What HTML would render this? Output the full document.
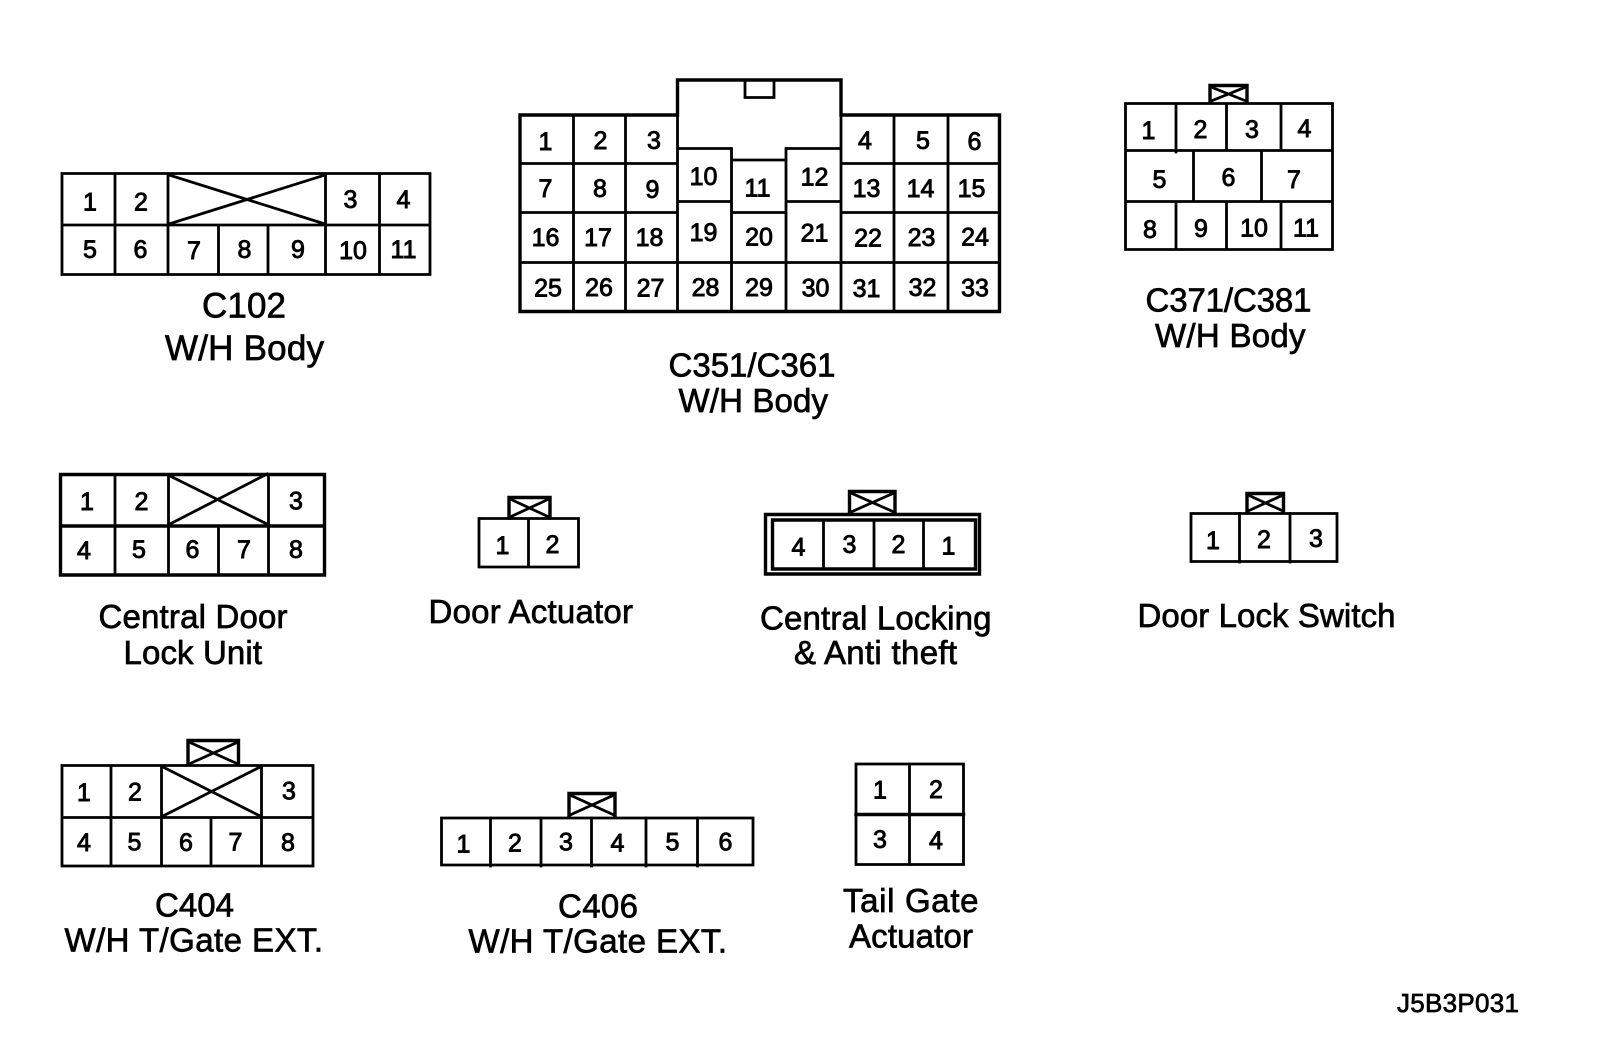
<!DOCTYPE html>
<html>
<head>
<meta charset="utf-8">
<style>
html,body{margin:0;padding:0;background:#fff;}
svg{display:block;}
text{font-family:"Liberation Sans",Arial,sans-serif;fill:#000;stroke:#000;}
.n text{font-size:25px;text-anchor:middle;stroke-width:.9;}
.l text{font-size:33px;stroke-width:.7;}
.b{fill:none;stroke:#000;stroke-width:2.8;stroke-linecap:square;}
.h{fill:none;stroke:#000;stroke-width:3.4;stroke-linecap:square;}
</style>
</head>
<body>
<svg width="1600" height="1062" viewBox="0 0 1600 1062" xmlns="http://www.w3.org/2000/svg">
<rect width="1600" height="1062" fill="#fff"/>

<!-- C102 -->
<path class="b" d="M62 173.5H430V274.5H62ZM62 225H430M115 173.5V274.5M168 173.5V274.5M218.5 225V274.5M268 225V274.5M325.5 173.5V274.5M379.5 173.5V274.5M169 175L325 224M169 224L325 175"/>
<g class="n">
<text x="90" y="210.5">1</text><text x="141" y="210.5">2</text><text x="350.5" y="208">3</text><text x="403.5" y="208">4</text>
<text x="90" y="258">5</text><text x="140.5" y="258">6</text><text x="194" y="259">7</text><text x="244.5" y="258">8</text><text x="298" y="258">9</text><text x="353" y="259">10</text><text x="403.5" y="258">11</text>
</g>

<!-- C351/C361 -->
<path class="h" d="M520 115H677.5V80H841V115H999.5V311.5H520ZM520 311.5V115"/>
<path class="b" d="M520 163.5H677.5M841 163.5H999.5M520 212.5H677.5M841 212.5H999.5M520 262.5H999.5M573.5 115V311.5M625.5 115V311.5M677.5 115V311.5M731.5 148.5V311.5M786 148.5V311.5M841 115V311.5M894 115V311.5M948 115V311.5M677.5 148.5H731.5V160H786V148.5H841M677.5 201.5H731.5M786 201.5H841M731.5 212.5H786M745 81V97.5H774V81"/>
<g class="n">
<text x="545.5" y="150">1</text><text x="600.5" y="149">2</text><text x="654" y="149">3</text><text x="865" y="149">4</text><text x="923" y="149">5</text><text x="974.5" y="150">6</text>
<text x="545.5" y="197">7</text><text x="600" y="197">8</text><text x="652.5" y="198">9</text><text x="703.5" y="185">10</text><text x="757.5" y="196.5">11</text><text x="814.5" y="185.5">12</text><text x="866.5" y="197">13</text><text x="920.5" y="197">14</text><text x="971.5" y="197">15</text>
<text x="545.5" y="246">16</text><text x="598" y="246">17</text><text x="649.5" y="246">18</text><text x="703.5" y="241">19</text><text x="759" y="245.5">20</text><text x="814.5" y="241.5">21</text><text x="868" y="246.5">22</text><text x="921.5" y="246">23</text><text x="975" y="245.5">24</text>
<text x="548" y="296.5">25</text><text x="599" y="296">26</text><text x="650.5" y="296.5">27</text><text x="705.5" y="296">28</text><text x="759" y="296">29</text><text x="815.5" y="296.5">30</text><text x="866.5" y="297">31</text><text x="922.5" y="296">32</text><text x="975" y="296.5">33</text>
</g>

<!-- C371/C381 -->
<path class="b" d="M1125.5 103.5H1332.5V249.5H1125.5ZM1125.5 150.5H1332.5M1125.5 201.5H1332.5M1176 103.5V152M1226.5 103.5V150.5M1281 103.5V150.5M1193.5 150.5V201.5M1261.5 150.5V201.5M1176 201.5V249.5M1226.5 201.5V249.5M1281 201.5V249.5"/>
<path class="h" d="M1210 102V85.5H1247V102"/>
<path class="b" d="M1211 87L1246 101M1211 101L1246 87"/>
<g class="n">
<text x="1148.5" y="139">1</text><text x="1200.5" y="138">2</text><text x="1252" y="138">3</text><text x="1304.5" y="137">4</text>
<text x="1159.5" y="188">5</text><text x="1228.5" y="186">6</text><text x="1294" y="188">7</text>
<text x="1150" y="238">8</text><text x="1201" y="237">9</text><text x="1254" y="236.5">10</text><text x="1306" y="236.5">11</text>
</g>

<!-- Central Door Lock Unit -->
<path class="h" d="M60.5 474.5H324.5V575H60.5ZM60.5 526H324.5"/>
<path class="b" d="M115 474.5V575M168.5 474.5V575M218.5 526V575M268.5 474.5V575M170 476L267 524M170 524L267 474"/>
<g class="n">
<text x="87" y="510">1</text><text x="141.5" y="510">2</text><text x="296" y="509.5">3</text>
<text x="84" y="559">4</text><text x="139" y="558">5</text><text x="192.5" y="558">6</text><text x="244" y="558">7</text><text x="296" y="558">8</text>
</g>

<!-- Door Actuator -->
<path class="b" d="M479 518.5H578.5V567H479ZM528.5 518.5V567"/>
<path class="h" d="M509 518V497.5H550V518"/>
<path class="b" d="M510 499L549 517M510 517L549 499"/>
<g class="n"><text x="502.5" y="554">1</text><text x="552.5" y="553">2</text></g>

<!-- Central Locking -->
<path class="h" d="M765.5 514.5H979.5V574H765.5Z"/>
<path class="h" d="M772.5 520H975.5V569H772.5Z"/>
<path class="b" d="M823.5 520V569M874 520V569M923.5 520V569"/>
<path class="h" d="M849.5 513V491.5H895V513"/>
<path class="b" d="M851 493L894 512M851 512L894 493"/>
<g class="n"><text x="798.5" y="555.5">4</text><text x="849.5" y="553">3</text><text x="898.5" y="553">2</text><text x="948.5" y="554.5">1</text></g>

<!-- Door Lock Switch -->
<path class="b" d="M1191 513.5H1337V561.5H1191Z"/>
<path class="b" d="M1239.5 513.5V562M1290 513.5V562"/>
<path class="h" d="M1247 512V493.5H1283.5V512"/>
<path class="b" d="M1248 495L1283 511M1248 511L1283 495"/>
<g class="n"><text x="1213" y="549">1</text><text x="1264" y="548">2</text><text x="1316" y="547">3</text></g>

<!-- C404 -->
<path class="b" d="M62 765.5H313V866H62ZM62 817.5H313M111 765.5V866M161.5 765.5V866M211 817.5V866M261.5 765.5V866M163 767L260 816M163 816L260 767"/>
<path class="h" d="M188 764V740.5H238.5V764"/>
<path class="b" d="M189 742L238 764M189 764L238 742"/>
<g class="n">
<text x="84" y="801">1</text><text x="135" y="800.5">2</text><text x="289" y="799.5">3</text>
<text x="84" y="851">4</text><text x="134.5" y="850.5">5</text><text x="186" y="851">6</text><text x="235.5" y="850.5">7</text><text x="288" y="851">8</text>
</g>

<!-- C406 -->
<path class="b" d="M441.5 818H753V865H441.5Z"/>
<path class="b" d="M490.5 818V866M541 818V866M591.5 818V866M646 818V866M697.5 818V866"/>
<path class="h" d="M569 816V793.5H615V816"/>
<path class="b" d="M570 795L614 815M570 815L614 795"/>
<g class="n"><text x="463.5" y="852.5">1</text><text x="515" y="851.5">2</text><text x="566" y="850.5">3</text><text x="617.5" y="851.5">4</text><text x="672.5" y="850.5">5</text><text x="725.5" y="850.5">6</text></g>

<!-- Tail Gate Actuator -->
<path class="b" d="M856 764H963.5V864.5H856Z"/>
<path class="h" d="M856 814.5H963.5"/>
<path class="b" d="M909.5 764V864.5"/>
<g class="n"><text x="880" y="798.5">1</text><text x="936" y="798">2</text><text x="880" y="848">3</text><text x="936" y="849">4</text></g>

<!-- Labels -->
<g class="l">
<text x="202" y="317.5" style="font-size:35px" textLength="84">C102</text>
<text x="165" y="360" style="font-size:35px" textLength="159">W/H Body</text>
<text x="668.5" y="376.5" textLength="167">C351/C361</text>
<text x="678.5" y="412" textLength="149.5">W/H Body</text>
<text x="1145.5" y="311.5" textLength="166">C371/C381</text>
<text x="1155" y="347" textLength="150.5">W/H Body</text>
<text x="98.5" y="628" textLength="189">Central Door</text>
<text x="123.5" y="664" textLength="138.5">Lock Unit</text>
<text x="428.5" y="623" textLength="204.5">Door Actuator</text>
<text x="760" y="629.5" textLength="231.5">Central Locking</text>
<text x="794" y="664" textLength="163">&amp; Anti theft</text>
<text x="1137.5" y="627" textLength="258">Door Lock Switch</text>
<text x="155" y="916.5" textLength="79">C404</text>
<text x="64.5" y="951.5" textLength="258.5">W/H T/Gate EXT.</text>
<text x="558" y="917.5" textLength="80">C406</text>
<text x="468.5" y="952.5" textLength="258.5">W/H T/Gate EXT.</text>
<text x="843" y="912" textLength="135.5">Tail Gate</text>
<text x="849" y="947.5" textLength="124">Actuator</text>
<text x="1397" y="1012" style="font-size:26px" textLength="122">J5B3P031</text>
</g>
</svg>
</body>
</html>
